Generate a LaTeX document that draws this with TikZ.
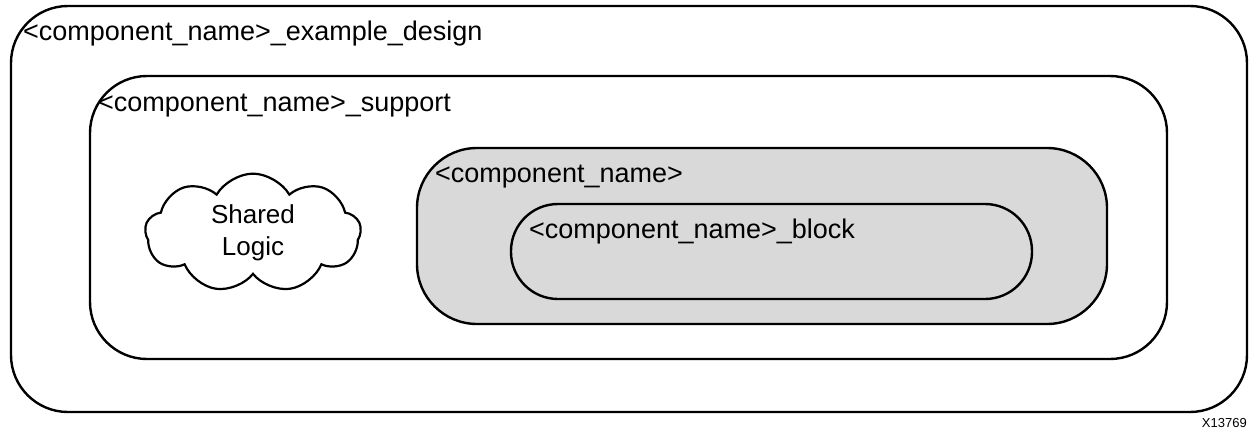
\documentclass[tikz,border=0pt]{standalone}
\usepackage{fontspec}
\setmainfont{Liberation Sans}
\usetikzlibrary{positioning,shapes.symbols}
\definecolor{compgray}{RGB}{217,217,217}

\begin{document}
\begin{tikzpicture}[x=1pt,y=-1pt,
    box/.style={draw, line width=2.4pt, rounded corners=57pt, inner sep=0pt},
    lbl/.style={anchor=base west, inner sep=0pt, font=\fontsize{27}{32}\selectfont},
    cloudbox/.style={draw, cloud, cloud puffs=9, cloud puff arc=120, aspect=2,
        line width=2.2pt, minimum width=216pt, minimum height=110pt, align=center,
        font=\fontsize{26}{32}\selectfont}]
\useasboundingbox (0,0) rectangle (1254,431);

\node[box] (design) [minimum width=1236pt, minimum height=406pt] at (629,209) {};
\node[box] (support) [minimum width=1077pt, minimum height=283pt] at (628.5,217.5) {};
\node[box, fill=compgray, rounded corners=60pt] (comp) [minimum width=690pt, minimum height=176pt] at (762,236) {};
\node[box, rounded corners=47pt] (block) [minimum width=521pt, minimum height=95pt] at (771.5,251.5) {};

\node[lbl] (designlbl) at (23,40) {<component\_name>\_example\_design};
\node[lbl] (supportlbl) at (98,111) {<component\_name>\_support};
\node[lbl] (complbl) at (435,182) {<component\_name>};
\node[lbl] (blocklbl) at (529,238) {<component\_name>\_block};

\node[cloudbox] (shared) at (253,233) {Shared\\Logic};

\node[anchor=base east, inner sep=0pt, font=\fontsize{13}{15}\selectfont] (fignum) at (1247,427) {X13769};
\end{tikzpicture}
\end{document}
